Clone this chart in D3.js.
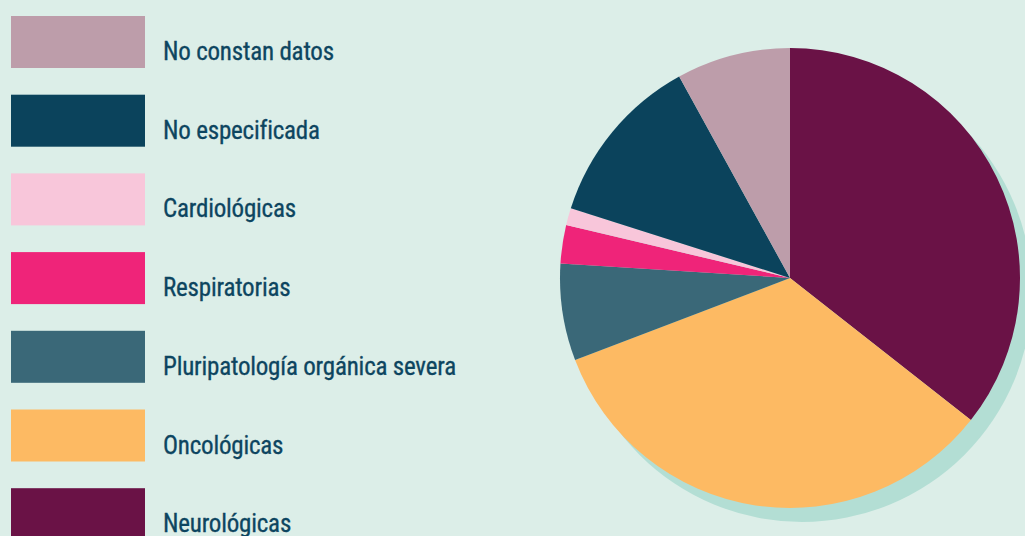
<!DOCTYPE html>
<html>
<head>
<meta charset="utf-8">
<script src="https://cdn.jsdelivr.net/npm/d3@7"></script>
<style>
  html, body { margin: 0; padding: 0; background: #dceee8; }
  svg { display: block; }
</style>
</head>
<body>
<svg id="chart" width="1025" height="536"></svg>
<script>
// data, in drawing order (clockwise from 12 o'clock)
const categories = ["Neurológicas", "Oncológicas", "Pluripatología orgánica severa",
                    "Respiratorias", "Cardiológicas", "No especificada", "No constan datos"];
const values     = [35.6, 33.6, 6.8, 2.7, 1.2, 12.1, 8.0];
const colors     = ["#6a1246", "#fdba63", "#3a6878", "#ef2479", "#f8c6da", "#0b435c", "#bd9daa"];
// legend is listed top-down in reverse order
const legendOrder = categories.slice().reverse();

const svg = d3.select("#chart");

const color = d3.scaleOrdinal().domain(categories).range(colors);

// pie
const cx = 790, cy = 278, r = 230;
const pie = d3.pie().sort(null).value(d => d.v);
const arc = d3.arc().innerRadius(0).outerRadius(r);
const data = categories.map((c, i) => ({ c, v: values[i] }));

// shadow
svg.append("circle")
  .attr("cx", cx + 12).attr("cy", cy + 14)
  .attr("r", r)
  .attr("fill", "#b3ded4");

const g = svg.append("g")
  .attr("transform", `translate(${cx},${cy})`);

g.selectAll("path")
  .data(pie(data)).enter().append("path")
    .attr("d", arc)
    .attr("fill", d => color(d.data.c));

// legend
const y = d3.scaleBand()
  .domain(legendOrder)
  .range([16, 16 + 78.7 * 7])
  .paddingInner(0);

const rows = svg.append("g").selectAll("g")
  .data(legendOrder).enter().append("g")
    .attr("transform", d => `translate(0,${y(d)})`);

rows.append("rect")
  .attr("x", 11)
  .attr("width", 134)
  .attr("height", 52)
  .attr("fill", d => color(d));

rows.append("text")
  .attr("x", 163)
  .attr("y", 44)
  .attr("fill", "#0d4560")
  .style("font-family", "'Liberation Sans Narrow', 'Roboto Condensed', 'Liberation Sans', sans-serif")
  .style("font-size", "25px")
  .style("letter-spacing", "-0.2px")
  .style("stroke", "#0d4560")
  .style("stroke-width", "0.3px")
  .text(d => d);
</script>
</body>
</html>
